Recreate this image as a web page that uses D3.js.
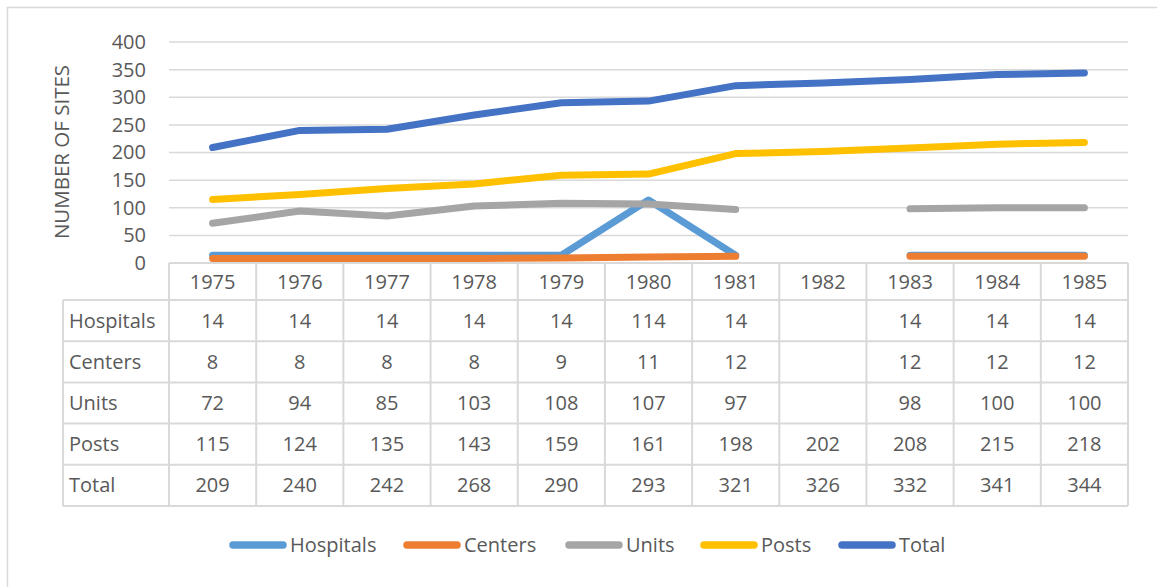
<!DOCTYPE html>
<html>
<head>
<meta charset="utf-8">
<script src="https://cdn.jsdelivr.net/npm/d3@7"></script>
<style>
  body { margin: 0; background: #fff; }
  svg text { font-family: "Open Sans", "Liberation Sans", sans-serif; fill: #595959; }
</style>
</head>
<body>
<div id="chart"></div>
<script>
// Data
const years = ['1975', '1976', '1977', '1978', '1979', '1980', '1981', '1982', '1983', '1984', '1985'];
const hospitals = [14, 14, 14, 14, 14, 114, 14, null, 14, 14, 14];
const centers = [8, 8, 8, 8, 9, 11, 12, null, 12, 12, 12];
const units = [72, 94, 85, 103, 108, 107, 97, null, 98, 100, 100];
const posts = [115, 124, 135, 143, 159, 161, 198, 202, 208, 215, 218];
const total = [209, 240, 242, 268, 290, 293, 321, 326, 332, 341, 344];
const yTicks = [0, 50, 100, 150, 200, 250, 300, 350, 400];

const series = [
  { name: 'Hospitals', values: hospitals, color: '#5B9BD5' },
  { name: 'Centers', values: centers, color: '#ED7D31' },
  { name: 'Units', values: units, color: '#A5A5A5' },
  { name: 'Posts', values: posts, color: '#FFC000' },
  { name: 'Total', values: total, color: '#4472C4' }
];

const W = 1157, H = 587;
const plot = { left: 169, right: 1128, top: 42, bottom: 263 };
const headerH = 37, rowH = 41.2, tableLeft = 63;
const gridColor = '#D9D9D9';
const fontSize = '20px';

const svg = d3.select('#chart').append('svg')
  .attr('width', W)
  .attr('height', H);

// outer frame (runs off right/bottom of picture)
svg.append('rect')
  .attr('x', 7.5).attr('y', 7.5)
  .attr('width', W + 20).attr('height', H + 20)
  .attr('fill', 'none')
  .attr('stroke', gridColor)
  .attr('stroke-width', 1.5);

// Scales
const x = d3.scaleBand()
  .domain(years)
  .range([plot.left, plot.right]);

const y = d3.scaleLinear()
  .domain([0, 400])
  .range([plot.bottom, plot.top]);

// Gridlines
svg.append('g')
  .selectAll('line')
  .data(yTicks.filter(d => d > 0))
  .enter().append('line')
  .attr('x1', plot.left).attr('x2', plot.right)
  .attr('y1', d => y(d)).attr('y2', d => y(d))
  .attr('stroke', gridColor)
  .attr('stroke-width', 1.5);

// Y axis labels
const yAxis = svg.append('g')
  .attr('transform', `translate(${plot.left},0)`)
  .call(d3.axisLeft(y).tickValues(yTicks).tickSize(0).tickPadding(23));
yAxis.select('.domain').remove();
yAxis.selectAll('text')
  .style('font-size', fontSize)
  .style('font-family', '"Open Sans", sans-serif')
  .attr('fill', '#595959');

// Y axis title
svg.append('text')
  .attr('transform', 'translate(69,152) rotate(-90)')
  .style('text-anchor', 'middle')
  .style('font-size', '20.5px')
  .text('NUMBER OF SITES');

// Data table
const table = svg.append('g');
const rows = series.map(s => s.name);
const tableBottom = plot.bottom + headerH + rowH * rows.length;

// horizontal lines
table.append('line')
  .attr('x1', plot.left).attr('x2', plot.right)
  .attr('y1', plot.bottom).attr('y2', plot.bottom)
  .attr('stroke', gridColor).attr('stroke-width', 2);
table.selectAll('.hline')
  .data(d3.range(rows.length + 1))
  .enter().append('line')
  .attr('class', 'hline')
  .attr('x1', tableLeft).attr('x2', plot.right)
  .attr('y1', i => plot.bottom + headerH + i * rowH)
  .attr('y2', i => plot.bottom + headerH + i * rowH)
  .attr('stroke', gridColor).attr('stroke-width', 2);

// vertical lines
const colEdges = years.map(d => x(d)).concat([plot.right]);
table.selectAll('.vline')
  .data(colEdges)
  .enter().append('line')
  .attr('class', 'vline')
  .attr('x1', d => d).attr('x2', d => d)
  .attr('y1', plot.bottom).attr('y2', tableBottom)
  .attr('stroke', gridColor).attr('stroke-width', 2);
table.append('line')
  .attr('x1', tableLeft).attr('x2', tableLeft)
  .attr('y1', plot.bottom + headerH).attr('y2', tableBottom)
  .attr('stroke', gridColor).attr('stroke-width', 2);

// year header
table.selectAll('.year')
  .data(years)
  .enter().append('text')
  .attr('class', 'year')
  .attr('x', d => x(d) + x.bandwidth() / 2)
  .attr('y', plot.bottom + headerH / 2)
  .attr('dy', '.35em')
  .style('text-anchor', 'middle')
  .style('font-size', fontSize)
  .text(d => d);

// row labels + values
series.forEach((s, i) => {
  const cy = plot.bottom + headerH + rowH * i + rowH / 2;
  table.append('text')
    .attr('x', tableLeft + 6)
    .attr('y', cy)
    .attr('dy', '.35em')
    .style('font-size', fontSize)
    .text(s.name);
  table.selectAll(`.val${i}`)
    .data(s.values.map((v, j) => ({ v, year: years[j] })).filter(d => d.v != null))
    .enter().append('text')
    .attr('x', d => x(d.year) + x.bandwidth() / 2)
    .attr('y', cy)
    .attr('dy', '.35em')
    .style('text-anchor', 'middle')
    .style('font-size', fontSize)
    .text(d => d.v);
});

// Lines
const line = d3.line()
  .defined(d => d.v != null)
  .x(d => x(d.year) + x.bandwidth() / 2)
  .y(d => y(d.v));

svg.append('g')
  .selectAll('path')
  .data(series)
  .enter().append('path')
  .attr('d', s => line(s.values.map((v, j) => ({ v, year: years[j] }))))
  .attr('fill', 'none')
  .attr('stroke', s => s.color)
  .attr('stroke-width', 7)
  .attr('stroke-linecap', 'round')
  .attr('stroke-linejoin', 'round');

// Legend
const legendX = [229, 403, 565, 700, 838];
const legend = svg.append('g');
series.forEach((s, i) => {
  const lx = legendX[i];
  legend.append('line')
    .attr('x1', lx + 4).attr('x2', lx + 54)
    .attr('y1', 545).attr('y2', 545)
    .attr('stroke', s.color)
    .attr('stroke-width', 7.5)
    .attr('stroke-linecap', 'round');
  legend.append('text')
    .attr('x', lx + 61)
    .attr('y', 545)
    .attr('dy', '.35em')
    .style('font-size', fontSize)
    .text(s.name);
});
</script>
</body>
</html>
